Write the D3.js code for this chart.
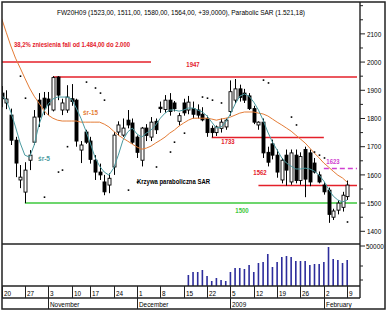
<!DOCTYPE html>
<html>
<head>
<meta charset="utf-8">
<script src="https://cdn.jsdelivr.net/npm/d3@7"></script>
<style>
  body { margin: 0; background: #fff; }
  text { font-family: "Liberation Sans", Arial, sans-serif; }
</style>
</head>
<body>
<svg id="chart" width="389" height="313"></svg>
<script>
// --- données (FW20H09, séance par séance) ---
const dates = ["2008-10-20","2008-10-21","2008-10-22","2008-10-23","2008-10-24","2008-10-27","2008-10-28","2008-10-29","2008-10-30","2008-10-31",
  "2008-11-03","2008-11-04","2008-11-05","2008-11-06","2008-11-07","2008-11-10","2008-11-12","2008-11-13","2008-11-14",
  "2008-11-17","2008-11-18","2008-11-19","2008-11-20","2008-11-21","2008-11-24","2008-11-25","2008-11-26","2008-11-27","2008-11-28",
  "2008-12-01","2008-12-02","2008-12-03","2008-12-04","2008-12-05","2008-12-08","2008-12-09","2008-12-10","2008-12-11","2008-12-12",
  "2008-12-15","2008-12-16","2008-12-17","2008-12-18","2008-12-19","2008-12-22","2008-12-23","2008-12-29","2008-12-30",
  "2009-01-02","2009-01-05","2009-01-06","2009-01-07","2009-01-08","2009-01-09","2009-01-12","2009-01-13","2009-01-14","2009-01-15","2009-01-16",
  "2009-01-19","2009-01-20","2009-01-21","2009-01-22","2009-01-23","2009-01-26","2009-01-27","2009-01-28","2009-01-29","2009-01-30",
  "2009-02-02","2009-02-03","2009-02-04","2009-02-05","2009-02-06","2009-02-09"];

const open  = [1890,1855,1812,1723,1582,1539,1652,1716,1865,1872,1869,1830,1947,1830,1830,1870,1865,1688,1752,1720,1652,1610,1575,1564,1628,
  1752,1741,1794,1784,1734,1652,1766,1734,1790,1840,1832,1865,1855,1790,1855,1830,1835,1830,1815,1800,1765,1750,1765,1770,1825,
  1865,1905,1890,1880,1835,1777,1787,1680,1710,1670,1582,1670,1575,1670,1580,1690,1678,1642,1600,1564,1546,1450,1475,1485,1523];
const high  = [1915,1900,1835,1735,1635,1645,1688,1830,1890,1894,1894,1950,1950,1870,1918,1922,1870,1720,1760,1735,1670,1640,1600,1606,1752,
  1790,1800,1830,1800,1740,1770,1780,1805,1800,1860,1883,1890,1862,1820,1870,1880,1860,1850,1840,1810,1775,1775,1800,1800,1935,
  1940,1920,1905,1890,1845,1790,1800,1700,1725,1690,1660,1690,1690,1690,1680,1700,1690,1660,1612,1575,1555,1480,1510,1540,1580];
const low   = [1840,1833,1706,1592,1553,1500,1617,1706,1770,1812,1812,1825,1865,1812,1820,1845,1700,1642,1710,1640,1582,1582,1528,1535,1600,
  1740,1735,1765,1710,1660,1630,1720,1720,1745,1820,1820,1810,1825,1775,1810,1815,1800,1800,1790,1735,1733,1738,1750,1760,1810,
  1855,1860,1855,1830,1780,1760,1660,1630,1655,1590,1570,1562,1565,1570,1565,1521,1560,1605,1570,1530,1430,1440,1460,1470,1511];
const close = [1870,1869,1723,1642,1592,1617,1670,1805,1805,1837,1848,1945,1883,1855,1876,1860,1720,1706,1716,1655,1610,1600,1540,1588,1741,
  1777,1766,1777,1716,1680,1766,1740,1787,1760,1835,1865,1825,1835,1810,1820,1858,1815,1812,1795,1750,1750,1770,1787,1794,1895,
  1905,1875,1865,1835,1787,1787,1678,1645,1670,1610,1652,1617,1678,1580,1665,1585,1575,1610,1575,1540,1460,1472,1500,1528,1564];

// średnie kroczące (5 i 15 sesji)
const ma5  = [1883,1865,1823,1770,1713,1670,1663,1706,1777,1823,1851,1869,1876,1876,1876,1869,1837,1801,1759,1713,1663,1631,1610,1599,1624,
  1670,1723,1752,1766,1745,1734,1748,1759,1777,1801,1819,1830,1830,1826,1830,1837,1837,1830,1823,1809,1787,1766,1770,1787,1816,
  1851,1879,1887,1879,1858,1830,1794,1752,1716,1688,1660,1642,1631,1621,1621,1624,1621,1613,1599,1578,1550,1525,1511,1504,1511];
const ma15 = [2156,2106,2057,2014,1979,1943,1908,1879,1855,1830,1812,1801,1794,1791,1791,1791,1791,1787,1787,1787,1787,1787,1780,1770,1755,
  1741,1730,1720,1709,1699,1691,1695,1702,1713,1723,1734,1748,1759,1773,1784,1794,1801,1801,1801,1801,1798,1794,1798,1801,1805,
  1812,1819,1823,1823,1823,1819,1816,1809,1798,1787,1777,1766,1755,1741,1727,1713,1695,1677,1660,1642,1628,1613,1599,1589,1574];

// Parabolic SAR (kropki widoczne na wykresie)
const sar = [null,null,null,null,1950,1872,null,null,null,1521,null,null,1610,1617,1700,null,null,null,1929,null,1908,1890,1865,null,null,
  null,null,1546,null,1574,null,null,null,1628,null,null,1681,1716,null,1748,null,null,null,1876,1872,1865,null,1855,null,null,
  null,null,null,null,null,null,1936,1926,null,null,null,null,1805,1777,null,null,null,1681,1670,1660,null,null,null,null,1433];

// wolumen od 2008-12-16
const volumeFrom = "2008-12-16";
const volume = [13750,17500,17500,20000,12500,6250,10000,7500,6250,17500,22500,22500,21250,26250,17500,28750,30000,40000,23750,30000,
  36250,37500,36250,31250,31250,31250,26250,27500,27500,30000,48750,33750,32500,28750,32500];

// poziomy wsparcia / oporu
const levels      = [2000, 1947, 1733, 1562, 1500, 1623];
const levelFrom   = ["2008-10-20","2008-11-04","2008-12-23","2009-01-13","2008-10-27","2009-02-02"];
const levelTo     = ["2008-12-04", null, "2009-02-02", null, null, null];
const levelLabels = ["", "1947", "1733", "1562", "1500", "1623"];

const priceTicks = [1400, 1500, 1600, 1700, 1800, 1900, 2000, 2100];
const volTicks = [50000];
const tickDates = ["2008-10-20","2008-10-27","2008-11-03","2008-11-10","2008-11-17","2008-11-24","2008-12-01","2008-12-08",
  "2008-12-15","2008-12-22","2009-01-05","2009-01-12","2009-01-19","2009-01-26","2009-02-02","2009-02-09"];
const monthStarts = ["2008-11-03","2008-12-01","2009-01-05","2009-02-02"];
const monthLabels = ["November", "December", "2009", "February"];

const title = "FW20H09 (1523,00, 1511,00, 1580,00, 1564,00, +39,0000), Parabolic SAR (1.521,18)";
const note = "38,2% zniesienia fali od 1.484,00 do 2.000";

// --- mise en page ---
const L = 2, R = 360, T = 2, priceB = 244, volB = 286, dateB = 298, monB = 309, frameR = 385;
const idx = d => dates.indexOf(d);

const x  = d3.scaleLinear().domain([0, dates.length - 1]).range([1.5, 347.2]);
const y  = d3.scaleLinear().domain([1355, 2213]).range([priceB, T]);
const yv = d3.scaleLinear().domain([0, 50000]).range([volB, 246]);

const RED = "#e4202a", GREEN = "#3cc83c", MAG = "#d040d0", TEAL = "#4a9aa0", ORANGE = "#e47c36", VOL = "#2d2d9c";

const svg = d3.select("#chart");
svg.append("rect").attr("width", 389).attr("height", 313).attr("fill", "#fff");

const defs = svg.append("defs");
defs.append("clipPath").attr("id", "cp").append("rect")
  .attr("x", L).attr("y", T).attr("width", R - L).attr("height", priceB - T);
defs.append("clipPath").attr("id", "cv").append("rect")
  .attr("x", L).attr("y", priceB).attr("width", R - L).attr("height", volB - priceB);

function txt(g, px, py, s, o = {}) {
  return g.append("text")
    .attr("transform", `translate(${px},${py}) scale(${o.sx ?? 0.8},1)`)
    .attr("font-size", o.size ?? 8)
    .attr("font-weight", o.weight ?? "normal")
    .attr("font-family", o.family ?? null)
    .attr("text-anchor", o.anchor ?? "start")
    .attr("fill", o.fill ?? "#000")
    .text(s);
}

// --- panneau des prix ---
const gp = svg.append("g").attr("clip-path", "url(#cp)");

// niveaux
const levelStyle = [
  { c: RED, w: 1.5 }, { c: RED, w: 1.5 }, { c: RED, w: 1.5 }, { c: RED, w: 1.5 }, { c: GREEN, w: 1.5 }, { c: MAG, w: 1.5, dash: "5,3" }
];
levels.forEach((v, i) => {
  const x0 = i === 0 ? L : x(idx(levelFrom[i]));
  const x1 = levelTo[i] ? x(idx(levelTo[i])) : 357;
  gp.append("line")
    .attr("x1", x0).attr("x2", x1)
    .attr("y1", y(v)).attr("y2", y(v))
    .attr("stroke", levelStyle[i].c)
    .attr("stroke-width", levelStyle[i].w)
    .attr("stroke-dasharray", levelStyle[i].dash || null);
});

// świece
const bars = d3.range(dates.length);
const cx = i => Math.round(x(i)) + 0.5;
gp.append("g").selectAll("line")
  .data(bars).join("line")
  .attr("x1", cx).attr("x2", cx)
  .attr("y1", i => y(high[i])).attr("y2", i => y(low[i]))
  .attr("stroke", "#000").attr("stroke-width", 1);
gp.append("g").selectAll("rect")
  .data(bars).join("rect")
  .attr("x", i => cx(i) - 1.5)
  .attr("width", 3)
  .attr("y", i => y(Math.max(open[i], close[i])))
  .attr("height", i => Math.max(1, Math.abs(y(open[i]) - y(close[i]))))
  .attr("fill", i => close[i] >= open[i] ? "#fff" : "#000")
  .attr("stroke", "#000").attr("stroke-width", 0.9);

// średnie
const line = d3.line().x((d, i) => x(i)).y(d => y(d));
gp.append("path").datum(ma15).attr("d", line).attr("fill", "none").attr("stroke", ORANGE).attr("stroke-width", 1);
gp.append("path").datum(ma5).attr("d", line).attr("fill", "none").attr("stroke", TEAL).attr("stroke-width", 1);

// SAR
gp.append("g").selectAll("rect")
  .data(bars.filter(i => sar[i] != null)).join("rect")
  .attr("x", i => cx(i) - 0.8).attr("y", i => y(sar[i]) - 0.8)
  .attr("width", 1.6).attr("height", 1.6)
  .attr("fill", "#000");

// opisy
svg.append("text").attr("x", 57).attr("y", 15).attr("font-size", 8)
  .attr("textLength", 248).attr("lengthAdjust", "spacingAndGlyphs").text(title);
svg.append("text").attr("x", 14).attr("y", 47).attr("font-size", 8).attr("font-weight", "bold").attr("fill", RED)
  .attr("textLength", 116).attr("lengthAdjust", "spacingAndGlyphs").text(note);
svg.append("text").attr("x", 137).attr("y", 184).attr("font-size", 8).attr("font-weight", "bold")
  .attr("textLength", 73).attr("lengthAdjust", "spacingAndGlyphs").text("Krzywa paraboliczna SAR");
svg.append("text").attr("x", 83).attr("y", 115).attr("font-size", 8).attr("font-weight", "bold").attr("fill", ORANGE)
  .attr("textLength", 15).attr("lengthAdjust", "spacingAndGlyphs").text("śr-15");
svg.append("text").attr("x", 38).attr("y", 161).attr("font-size", 8).attr("font-weight", "bold").attr("fill", TEAL)
  .attr("textLength", 12).attr("lengthAdjust", "spacingAndGlyphs").text("śr-5");

const levelLabelPos = [null, [193, 67], [228, 144], [260, 175], [242, 213], [333, 164]];
levelLabels.forEach((s, i) => {
  if (!s) return;
  txt(svg, levelLabelPos[i][0], levelLabelPos[i][1], s, {
    anchor: "middle", size: 7.5, weight: "bold", sx: 0.8,
    family: "'Liberation Serif', 'Times New Roman', serif",
    fill: levelStyle[i].c
  });
});

// --- wolumen ---
const gv = svg.append("g").attr("clip-path", "url(#cv)");
const v0 = idx(volumeFrom);
gv.selectAll("rect").data(volume).join("rect")
  .attr("x", (d, i) => x(v0 + i) - 0.8)
  .attr("width", 1.6)
  .attr("y", d => yv(d))
  .attr("height", d => volB - yv(d))
  .attr("fill", VOL);

// --- osie ---
const ga = svg.append("g").attr("stroke", "#222");
ga.append("rect").attr("x", L).attr("y", T).attr("width", frameR - L).attr("height", monB - T)
  .attr("fill", "none").attr("stroke-width", 1.5);
[priceB, volB, dateB].forEach(yy =>
  ga.append("line").attr("x1", L).attr("x2", R).attr("y1", yy).attr("y2", yy).attr("stroke-width", 1.4));
ga.append("line").attr("x1", R).attr("x2", R).attr("y1", T).attr("y2", dateB).attr("stroke-width", 1.4);

// price ticks
const minor = d3.range(1400, 2250, 50).filter(v => !priceTicks.includes(v));
minor.forEach(v => ga.append("line").attr("x1", R).attr("x2", R + 3).attr("y1", y(v)).attr("y2", y(v)));
priceTicks.forEach(v => {
  ga.append("line").attr("x1", R).attr("x2", R + 5).attr("y1", y(v)).attr("y2", y(v));
  txt(svg, 367, y(v) + 2.8, String(v));
});

// volume ticks
[25000, 7500].forEach(v => ga.append("line").attr("x1", R).attr("x2", R + 3).attr("y1", yv(v)).attr("y2", yv(v)));
volTicks.forEach(v => {
  ga.append("line").attr("x1", R).attr("x2", R + 5).attr("y1", yv(v)).attr("y2", yv(v));
  txt(svg, 366, yv(v) + 2.8, String(v));
});

// date rows
const parse = d3.timeParse("%Y-%m-%d");
tickDates.forEach(d => {
  const px = Math.round(x(idx(d))) + 0.5;
  ga.append("line").attr("x1", px).attr("x2", px).attr("y1", volB).attr("y2", dateB).attr("stroke-width", 1);
  txt(svg, px + 1.5, 296, String(parse(d).getDate()));
});
monthStarts.forEach((d, i) => {
  const px = Math.round(x(idx(d))) + 0.5;
  ga.append("line").attr("x1", px).attr("x2", px).attr("y1", dateB).attr("y2", monB).attr("stroke-width", 1);
  txt(svg, px + 1.5, 307, monthLabels[i]);
});
</script>
</body>
</html>
